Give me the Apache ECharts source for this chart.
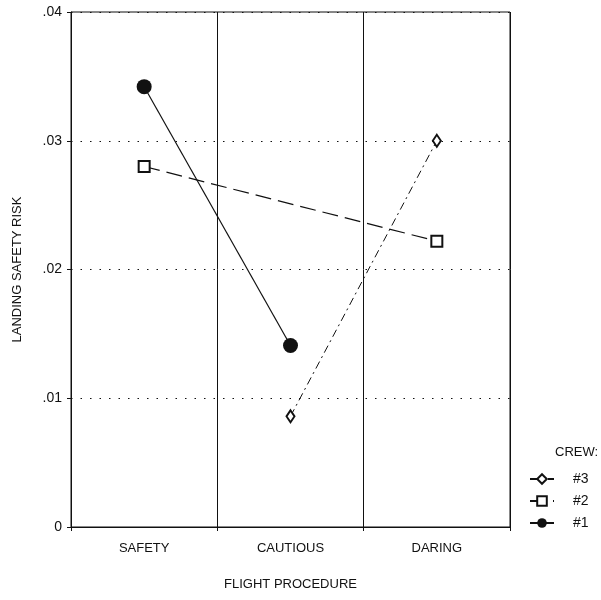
<!DOCTYPE html>
<html>
<head>
<meta charset="utf-8">
<script src="https://cdn.jsdelivr.net/npm/echarts@6/dist/echarts.min.js"></script>
<style>
  html, body { margin: 0; padding: 0; background: #fff; }
  #chart { width: 601px; height: 600px; }
</style>
</head>
<body>
<div id="chart"></div>
<script>
  // data
  var categories = ['SAFETY', 'CAUTIOUS', 'DARING']
  var crew1 = [0.0342, 0.0141, null]
  var crew2 = [0.0280, null, 0.0222]
  var crew3 = [null, 0.0086, 0.0300]
  var yTicks = ['0', '.01', '.02', '.03', '.04']

  var font = 'Liberation Sans'
  var black = '#111'

  var myChart = echarts.init(document.getElementById('chart'))
  myChart.setOption({
    animation: false,
    textStyle: { fontFamily: font, color: black },
    grid: {
      left: 71, right: 91, top: 12, bottom: 73,
      show: true, borderColor: black, borderWidth: 1
    },
    graphic: [{
      type: 'text', left: 555, top: 446,
      style: { text: 'CREW:', font: '13px ' + font, fill: black }
    }],
    legend: {
      orient: 'vertical',
      left: 524, top: 467,
      itemWidth: 24, itemHeight: 12, itemGap: 8,
      textStyle: { fontSize: 14, color: black, padding: [0, 0, 0, 14] },
      data: ['#3', '#2', '#1']
    },
    xAxis: {
      type: 'category',
      data: categories,
      boundaryGap: true,
      name: 'FLIGHT PROCEDURE',
      nameLocation: 'middle',
      nameGap: 51,
      nameTextStyle: { fontSize: 13, color: black },
      axisLine: { lineStyle: { color: black, width: 1 } },
      axisTick: { show: true, length: 4, lineStyle: { color: black } },
      axisLabel: { fontSize: 13, color: black, margin: 15 },
      splitLine: { show: true, lineStyle: { color: black, width: 1 } }
    },
    yAxis: {
      type: 'value',
      min: 0, max: 0.04, interval: 0.01,
      name: 'LANDING SAFETY RISK',
      nameLocation: 'middle',
      nameGap: 47,
      nameTextStyle: { fontSize: 13, color: black },
      axisLine: { show: true, lineStyle: { color: black, width: 1 } },
      axisTick: { show: true, length: 4, lineStyle: { color: black } },
      axisLabel: {
        fontSize: 14, color: black, margin: 9,
        formatter: function (v) { return yTicks[Math.round(v * 100)] }
      },
      splitLine: { show: true, lineStyle: { color: black, width: 1, type: [1.5, 8] } }
    },
    series: [
      {
        name: '#3', type: 'line', data: crew3, connectNulls: true,
        symbol: 'diamond', symbolSize: [8, 12],
        itemStyle: { color: '#fff', borderColor: black, borderWidth: 2 },
        lineStyle: { color: black, width: 1, type: [8, 4, 2, 4] }
      },
      {
        name: '#2', type: 'line', data: crew2, connectNulls: true,
        symbol: 'rect', symbolSize: 11,
        itemStyle: { color: '#fff', borderColor: black, borderWidth: 2 },
        lineStyle: { color: black, width: 1.2, type: [16, 7] }
      },
      {
        name: '#1', type: 'line', data: crew1, connectNulls: true,
        symbol: 'circle', symbolSize: 15,
        itemStyle: { color: black, borderColor: black, borderWidth: 0 },
        lineStyle: { color: black, width: 1.2, type: 'solid' }
      }
    ]
  })
</script>
</body>
</html>
